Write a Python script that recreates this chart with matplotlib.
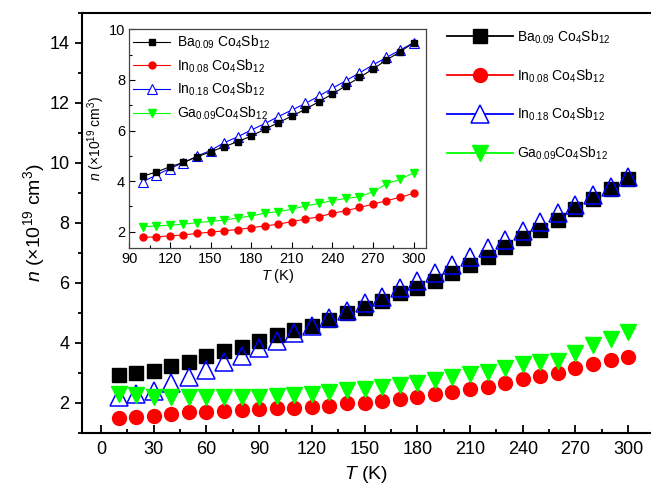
import numpy as np
import matplotlib
matplotlib.use("Agg")
import matplotlib.pyplot as plt
from matplotlib.lines import Line2D
from matplotlib.ticker import MultipleLocator

plt.rcParams["font.family"] = ["Liberation Sans", "DejaVu Sans"]
plt.rcParams["mathtext.fontset"] = "custom"
plt.rcParams["mathtext.rm"] = "Liberation Sans"
plt.rcParams["mathtext.it"] = "Liberation Sans:italic"

# ---------------------------------------------------------------------------
# Data
# ---------------------------------------------------------------------------
labels = [
    r"Ba$_{0.09}$ Co$_4$Sb$_{12}$",
    r"In$_{0.08}$ Co$_4$Sb$_{12}$",
    r"In$_{0.18}$ Co$_4$Sb$_{12}$",
    r"Ga$_{0.09}$Co$_4$Sb$_{12}$",
]

T_main = [10, 20, 30, 40, 50, 60, 70, 80, 90, 100, 110, 120, 130, 140, 150,
          160, 170, 180, 190, 200, 210, 220, 230, 240, 250, 260, 270, 280, 290, 300]
ba_main = [2.93, 3.01, 3.08, 3.24, 3.38, 3.57, 3.73, 3.88, 4.08, 4.27, 4.43, 4.57,
           4.78, 5.00, 5.18, 5.40, 5.65, 5.83, 6.08, 6.33, 6.60, 6.88, 7.20, 7.50,
           7.77, 8.10, 8.47, 8.80, 9.13, 9.47]
in08_main = [1.49, 1.52, 1.57, 1.63, 1.69, 1.71, 1.74, 1.77, 1.79, 1.82, 1.84, 1.88,
             1.91, 1.99, 2.01, 2.08, 2.13, 2.21, 2.30, 2.38, 2.47, 2.54, 2.66, 2.79,
             2.90, 3.01, 3.16, 3.30, 3.43, 3.54]
in18_main = [2.20, 2.30, 2.41, 2.66, 2.87, 3.10, 3.38, 3.55, 3.83, 4.08, 4.33, 4.57,
             4.83, 5.07, 5.33, 5.54, 5.82, 6.05, 6.33, 6.60, 6.88, 7.16, 7.43, 7.72,
             8.04, 8.32, 8.61, 8.92, 9.21, 9.54]
ga_main = [2.30, 2.27, 2.21, 2.19, 2.19, 2.19, 2.19, 2.21, 2.21, 2.23, 2.25, 2.30,
           2.38, 2.43, 2.47, 2.54, 2.60, 2.68, 2.77, 2.86, 2.96, 3.04, 3.16, 3.29,
           3.38, 3.41, 3.66, 3.93, 4.12, 4.38]

T_inset = [100, 110, 120, 130, 140, 150, 160, 170, 180, 190, 200,
           210, 220, 230, 240, 250, 260, 270, 280, 290, 300]
ba_inset = [4.20, 4.36, 4.57, 4.74, 4.96, 5.16, 5.36, 5.56, 5.78, 6.05, 6.31,
            6.57, 6.84, 7.14, 7.44, 7.77, 8.10, 8.43, 8.79, 9.11, 9.47]
in08_inset = [1.78, 1.80, 1.84, 1.87, 1.94, 1.98, 2.04, 2.09, 2.16, 2.23, 2.30,
              2.40, 2.50, 2.59, 2.73, 2.83, 2.96, 3.09, 3.23, 3.36, 3.52]
in18_inset = [3.98, 4.24, 4.50, 4.73, 4.99, 5.21, 5.52, 5.75, 6.02, 6.27, 6.55,
              6.81, 7.07, 7.36, 7.67, 7.97, 8.28, 8.59, 8.89, 9.18, 9.47]
ga_inset = [2.20, 2.23, 2.26, 2.30, 2.36, 2.41, 2.46, 2.55, 2.62, 2.74, 2.79,
            2.89, 3.02, 3.12, 3.23, 3.32, 3.38, 3.58, 3.89, 4.07, 4.33]

colors = ["black", "#ff0000", "#0000ff", "#00ff00"]

# ---------------------------------------------------------------------------
# Figure
# ---------------------------------------------------------------------------
fig = plt.figure(figsize=(6.51, 4.92), dpi=100)
ax = fig.add_axes([0.126, 0.12, 0.874, 0.8536])

ax.plot(T_main, ba_main, "s", color=colors[0], ms=9.5, ls="none")
ax.plot(T_main, in08_main, "o", color=colors[1], ms=10, ls="none")
ax.plot(T_main, in18_main, "^", mfc="none", mec=colors[2], mew=1.1, ms=13, ls="none")
ax.plot(T_main, ga_main, "v", color=colors[3], ms=11, ls="none")

ax.set_xlim(-10.8, 313)
ax.set_ylim(1, 15)
ax.xaxis.set_major_locator(MultipleLocator(30))
ax.xaxis.set_minor_locator(MultipleLocator(15))
ax.yaxis.set_major_locator(MultipleLocator(2))
ax.yaxis.set_minor_locator(MultipleLocator(1))
ax.tick_params(axis="x", which="both", direction="in", labelsize=13, pad=6)
ax.tick_params(axis="x", which="major", length=6, width=1.3)
ax.tick_params(axis="x", which="minor", length=3, width=1.3)
ax.tick_params(axis="y", which="both", direction="out", labelsize=13, pad=4)
ax.tick_params(axis="y", which="major", length=5, width=1.3)
ax.tick_params(axis="y", which="minor", length=3, width=1.3)
for side in ["left", "bottom", "top"]:
    ax.spines[side].set_linewidth(1.5)
ax.spines["right"].set_visible(False)
ax.set_xlabel(r"$T$ (K)", fontsize=14, labelpad=4)
ax.set_ylabel(r"$n$ (×10$^{19}$ cm$^3$)", fontsize=14, labelpad=2)

handles = [
    Line2D([], [], color=colors[0], marker="s", ms=9.5, lw=1.3),
    Line2D([], [], color=colors[1], marker="o", ms=10, lw=1.3),
    Line2D([], [], color=colors[2], marker="^", mfc="white", mec=colors[2], mew=1.1, ms=13, lw=1.3),
    Line2D([], [], color=colors[3], marker="v", ms=11, lw=1.3),
]
fig.legend(handles, labels, loc="upper left", bbox_to_anchor=(0.668, 0.968),
           frameon=False, fontsize=10, handlelength=4.7, handletextpad=0.3,
           labelspacing=1.55)

# ---------------------------------------------------------------------------
# Inset
# ---------------------------------------------------------------------------
ins = fig.add_axes([0.1986, 0.4965, 0.4554, 0.4439])
ins.plot(T_inset, ba_inset, "-s", color=colors[0], ms=4.5, lw=0.8, label=labels[0], zorder=4)
ins.plot(T_inset, in08_inset, "-o", color=colors[1], ms=5, lw=0.8, label=labels[1])
ins.plot(T_inset, in18_inset, "-^", color=colors[2], mfc="white", mec=colors[2], mew=0.8,
         ms=6.5, lw=0.8, label=labels[2], zorder=3)
ins.plot(T_inset, ga_inset, "-v", color=colors[3], ms=5.5, lw=0.8, label=labels[3])

ins.set_xlim(90, 309)
ins.set_ylim(1.37, 10)
ins.xaxis.set_major_locator(MultipleLocator(30))
ins.xaxis.set_minor_locator(MultipleLocator(15))
ins.yaxis.set_major_locator(MultipleLocator(2))
ins.yaxis.set_minor_locator(MultipleLocator(1))
ins.tick_params(axis="both", which="both", direction="in", labelsize=10.5, pad=3)
ins.tick_params(which="major", length=4, width=0.8)
ins.tick_params(which="minor", length=2.5, width=0.8)
for side in ins.spines:
    ins.spines[side].set_linewidth(0.9)
    ins.spines[side].set_color("#444444")
ins.set_xlabel(r"$T$ (K)", fontsize=10.5, labelpad=1)
ins.set_ylabel(r"$n$ (×10$^{19}$ cm$^3$)", fontsize=10, labelpad=1)
ins.legend(loc="upper left", frameon=False, fontsize=10, handlelength=2.6,
           handletextpad=0.5, labelspacing=0.45, borderaxespad=0.0, borderpad=0.3)

fig.savefig("out.png", dpi=100)
